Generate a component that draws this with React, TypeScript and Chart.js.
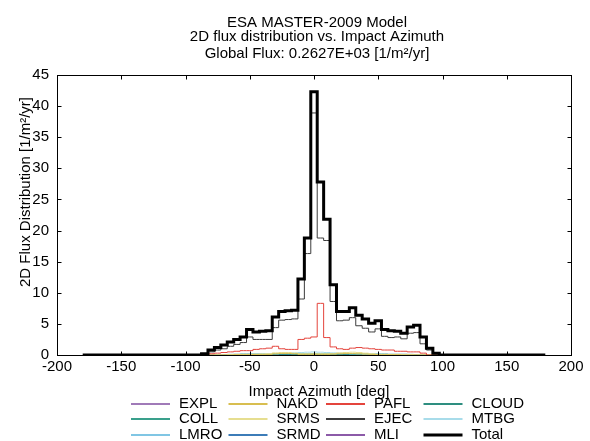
import React, { useEffect, useRef } from "react";
import { Chart, registerables } from "chart.js";

Chart.register(...registerables);

const FONT = '"Liberation Sans", Arial, Helvetica, sans-serif';

const titleLines = [
  "ESA MASTER-2009 Model",
  "2D flux distribution vs. Impact Azimuth",
  "Global Flux: 0.2627E+03 [1/m²/yr]",
];
const xTitle = "Impact Azimuth [deg]";
const yTitle = "2D Flux Distribution [1/m²/yr]";

const xTicks = [-200, -150, -100, -50, 0, 50, 100, 150, 200];
const yTicks = [0, 5, 10, 15, 20, 25, 30, 35, 40, 45];

// bin centres (deg)
const azimuthAll = [
  -180, -175, -170, -165, -160, -155, -150, -145, -140, -135, -130, -125, -120,
  -115, -110, -105, -100, -95, -90, -85, -80, -75, -70, -65, -60, -55, -50, -45,
  -40, -35, -30, -25, -20, -15, -10, -5, 0, 5, 10, 15, 20, 25, 30, 35, 40, 45,
  50, 55, 60, 65, 70, 75, 80, 85, 90, 95, 100, 105, 110, 115, 120, 125, 130,
  135, 140, 145, 150, 155, 160, 165, 170, 175, 180,
];
const azimuthCore = [
  -90, -85, -80, -75, -70, -65, -60, -55, -50, -45, -40, -35, -30, -25, -20,
  -15, -10, -5, 0, 5, 10, 15, 20, 25, 30, 35, 40, 45, 50, 55, 60, 65, 70, 75,
  80, 85, 90, 95, 100,
];

const total = [
  0, 0, 0, 0, 0, 0, 0, 0, 0, 0, 0, 0, 0, 0, 0, 0, 0, 0, 0,
  0.2, 0.8, 1.2, 1.6, 2.1, 2.5, 2.9, 4.1, 3.7, 3.8, 3.9, 6.1, 7.0, 7.1, 7.2,
  12.2, 18.8, 42.3, 27.8, 21.8, 11.3, 7.0, 7.0, 7.6, 6.4, 5.8, 5.1, 5.5, 4.1,
  3.9, 3.8, 3.5, 4.5, 4.8, 2.9, 1.1, 0.3,
  0, 0, 0, 0, 0, 0, 0, 0, 0, 0, 0, 0, 0, 0, 0, 0, 0,
];

const ejec = [
  0, 0.1, 0.5, 0.8, 1.0, 1.4, 1.7, 2.0, 2.9, 2.5, 2.5, 2.5, 4.4, 5.6, 5.7, 5.8,
  9.0, 16.3, 38.9, 18.8, 18.4, 8.6, 5.5, 5.6, 6.0, 4.7, 4.3, 3.7, 4.2, 3.0, 2.8,
  2.9, 2.6, 3.5, 3.6, 1.8, 0.8, 0.2, 0,
];
const pafl = [
  0, 0.0, 0.2, 0.3, 0.4, 0.5, 0.6, 0.7, 0.7, 0.9, 1.0, 1.1, 1.4, 1.0, 0.9, 0.9,
  2.5, 2.7, 2.9, 8.3, 2.8, 1.3, 1.0, 0.9, 1.1, 1.2, 1.1, 1.0, 0.9, 0.8, 0.8,
  0.6, 0.6, 0.5, 0.5, 0.3, 0.0, 0.0, 0,
];
const srms = [
  0, 0, 0, 0, 0, 0.05, 0.1, 0.1, 0.1, 0.1, 0.15, 0.2, 0.35, 0.4, 0.4, 0.3, 0.2,
  0.2, 0.2, 0.2, 0.2, 0.2, 0.35, 0.4, 0.45, 0.4, 0.3, 0.2, 0.1, 0.1, 0.1, 0.1,
  0.05, 0.05, 0, 0, 0, 0, 0,
];
const nakd = [
  0, 0, 0, 0, 0, 0, 0.05, 0.05, 0.05, 0.1, 0.1, 0.1, 0.2, 0.25, 0.25, 0.2, 0.1,
  0.1, 0.1, 0.1, 0.1, 0.15, 0.2, 0.25, 0.25, 0.2, 0.15, 0.1, 0.05, 0.05, 0.05,
  0.05, 0, 0, 0, 0, 0, 0, 0,
];
const srmd = [
  0, 0, 0, 0, 0, 0.05, 0.1, 0.1, 0.1, 0.1, 0.1, 0.1, 0.1, 0.1, 0.1, 0.1, 0.1,
  0.1, 0.1, 0.1, 0.1, 0.1, 0.1, 0.1, 0.1, 0.1, 0.1, 0.1, 0.1, 0.1, 0.1, 0.1,
  0.1, 0.05, 0.05, 0, 0, 0, 0,
];
const coll = [
  0, 0, 0, 0, 0.05, 0.1, 0.1, 0.15, 0.15, 0.15, 0.15, 0.15, 0.2, 0.2, 0.2, 0.2,
  0.2, 0.2, 0.25, 0.2, 0.2, 0.2, 0.2, 0.2, 0.15, 0.15, 0.15, 0.15, 0.15, 0.15,
  0.1, 0.1, 0.1, 0.1, 0.05, 0.05, 0, 0, 0,
];
const mtbg = [
  0, 0, 0, 0, 0, 0.05, 0.1, 0.1, 0.1, 0.15, 0.15, 0.2, 0.2, 0.25, 0.3, 0.35,
  0.4, 0.45, 0.5, 0.45, 0.4, 0.35, 0.3, 0.25, 0.2, 0.2, 0.15, 0.15, 0.1, 0.1,
  0.1, 0.05, 0.05, 0, 0, 0, 0, 0, 0,
];
const lmro = [
  0, 0, 0, 0, 0, 0, 0.02, 0.03, 0.03, 0.04, 0.05, 0.05, 0.05, 0.06, 0.06, 0.07,
  0.08, 0.08, 0.08, 0.07, 0.06, 0.06, 0.05, 0.05, 0.05, 0.04, 0.04, 0.03, 0.03,
  0.02, 0.02, 0.02, 0, 0, 0, 0, 0, 0, 0,
];
const cloud = [
  0, 0, 0, 0, 0, 0, 0.01, 0.01, 0.02, 0.02, 0.02, 0.03, 0.03, 0.03, 0.03, 0.04,
  0.04, 0.05, 0.05, 0.04, 0.04, 0.03, 0.03, 0.03, 0.03, 0.02, 0.02, 0.02, 0.02,
  0.01, 0.01, 0.01, 0, 0, 0, 0, 0, 0, 0,
];
const expl = [
  0, 0, 0, 0, 0, 0.01, 0.02, 0.02, 0.03, 0.03, 0.03, 0.04, 0.04, 0.04, 0.05,
  0.05, 0.05, 0.06, 0.06, 0.05, 0.05, 0.05, 0.04, 0.04, 0.04, 0.03, 0.03, 0.03,
  0.02, 0.02, 0.02, 0.01, 0.01, 0, 0, 0, 0, 0, 0,
];
const mli = [
  0, 0, 0, 0, 0, 0, 0, 0.01, 0.01, 0.01, 0.01, 0.01, 0.01, 0.02, 0.02, 0.02,
  0.02, 0.02, 0.03, 0.02, 0.02, 0.02, 0.02, 0.01, 0.01, 0.01, 0.01, 0.01, 0.01,
  0.01, 0, 0, 0, 0, 0, 0, 0, 0, 0,
];

const legendRows = [
  ["EXPL", "NAKD", "PAFL", "CLOUD"],
  ["COLL", "SRMS", "EJEC", "MTBG"],
  ["LMRO", "SRMD", "MLI", "Total"],
];

const decorPlugin = {
  id: "decor",
  afterDraw(chart: any) {
    const { ctx, chartArea: a, scales } = chart;
    ctx.save();
    // frame
    ctx.strokeStyle = "#000";
    ctx.lineWidth = 1;
    const L = Math.round(a.left) + 0.5;
    const R = Math.round(a.right) + 0.5;
    const T = Math.round(a.top) + 0.5;
    const B = Math.round(a.bottom) + 0.5;
    ctx.strokeRect(L, T, R - L, B - T);
    // inward ticks
    ctx.beginPath();
    xTicks.forEach((v) => {
      const px = Math.round(scales.x.getPixelForValue(v)) + 0.5;
      ctx.moveTo(px, B);
      ctx.lineTo(px, B - 4);
      ctx.moveTo(px, T);
      ctx.lineTo(px, T + 4);
    });
    yTicks.forEach((v) => {
      const py = Math.round(scales.y.getPixelForValue(v)) + 0.5;
      ctx.moveTo(L, py);
      ctx.lineTo(L + 4, py);
      ctx.moveTo(R, py);
      ctx.lineTo(R - 4, py);
    });
    ctx.stroke();

    // titles
    ctx.fillStyle = "#000";
    ctx.font = `15px ${FONT}`;
    ctx.textAlign = "center";
    ctx.textBaseline = "alphabetic";
    const tys = [27, 41, 58];
    titleLines.forEach((t, i) => ctx.fillText(t, 317, tys[i]));
    ctx.fillText(xTitle, 319, 396);
    ctx.save();
    ctx.translate(30, 192);
    ctx.rotate(-Math.PI / 2);
    ctx.fillText(yTitle, 0, 0);
    ctx.restore();

    // legend
    const colX = [131, 228.5, 326, 423.5];
    const rowY = [403.5, 419, 434.5];
    const byLabel: Record<string, any> = {};
    chart.data.datasets.forEach((d: any) => (byLabel[d.label] = d));
    ctx.textAlign = "left";
    ctx.textBaseline = "middle";
    legendRows.forEach((row, r) => {
      row.forEach((name, c) => {
        const d = byLabel[name];
        const y = Math.round(rowY[r]);
        ctx.beginPath();
        ctx.strokeStyle = String(d.borderColor);
        ctx.lineWidth = d.borderWidth > 1 ? 3 : 2;
        ctx.moveTo(colX[c], y);
        ctx.lineTo(colX[c] + 39, y);
        ctx.stroke();
        ctx.fillStyle = "#000";
        ctx.fillText(name, colX[c] + 48, rowY[r]);
      });
    });
    ctx.restore();
  },
};

export default function App() {
  const ref = useRef<HTMLCanvasElement>(null);
  useEffect(() => {
    document.body.style.margin = "0";
    const canvas = ref.current!;
    const mk = (label: string, xs: number[], ys: number[], color: string, width: number) => ({
      label,
      data: xs.map((x, i) => ({ x, y: ys[i] })),
      borderColor: color,
      backgroundColor: color,
      borderWidth: width,
      pointRadius: 0,
      stepped: "middle" as const,
      fill: false,
    });
    const datasets = [
      mk("Total", azimuthAll, total, "#000000", 3),
      mk("EJEC", azimuthCore, ejec, "#3c3c3c", 1),
      mk("PAFL", azimuthCore, pafl, "#e4443c", 1),
      mk("NAKD", azimuthCore, nakd, "#d8be50", 1),
      mk("SRMS", azimuthCore, srms, "#e6de90", 1),
      mk("MTBG", azimuthCore, mtbg, "#a8dcea", 1),
      mk("COLL", azimuthCore, coll, "#3aa08c", 1),
      mk("CLOUD", azimuthCore, cloud, "#2e8e80", 1),
      mk("SRMD", azimuthCore, srmd, "#3c7cb8", 1),
      mk("LMRO", azimuthCore, lmro, "#80c6e4", 1),
      mk("EXPL", azimuthCore, expl, "#a07ab8", 1),
      mk("MLI", azimuthCore, mli, "#8c5aa8", 1),
    ];
    const tickFont = { family: FONT, size: 15 };
    const chart = new Chart(canvas, {
      type: "line",
      data: { datasets: datasets as any },
      options: {
        responsive: false,
        animation: false,
        events: [],
        layout: { padding: { top: 75, right: 19, left: 0, bottom: 0 } },
        plugins: {
          legend: { display: false },
          title: { display: false },
          tooltip: { enabled: false },
        },
        scales: {
          x: {
            type: "linear",
            min: xTicks[0],
            max: xTicks[xTicks.length - 1],
            ticks: {
              stepSize: 50,
              font: tickFont,
              color: "#000",
              padding: 3,
              maxRotation: 0,
              autoSkip: false,
            },
            grid: { display: false, drawTicks: false },
            border: { display: false },
            afterFit: (s: any) => {
              s.height = 86;
            },
          },
          y: {
            type: "linear",
            min: yTicks[0],
            max: yTicks[yTicks.length - 1],
            ticks: { stepSize: 5, font: tickFont, color: "#000", padding: 8 },
            grid: { display: false, drawTicks: false },
            border: { display: false },
            afterFit: (s: any) => {
              s.width = 57;
            },
          },
        },
      },
      plugins: [decorPlugin],
    });
    return () => chart.destroy();
  }, []);
  return <canvas ref={ref} width={590} height={441} style={{ display: "block" }} />;
}
